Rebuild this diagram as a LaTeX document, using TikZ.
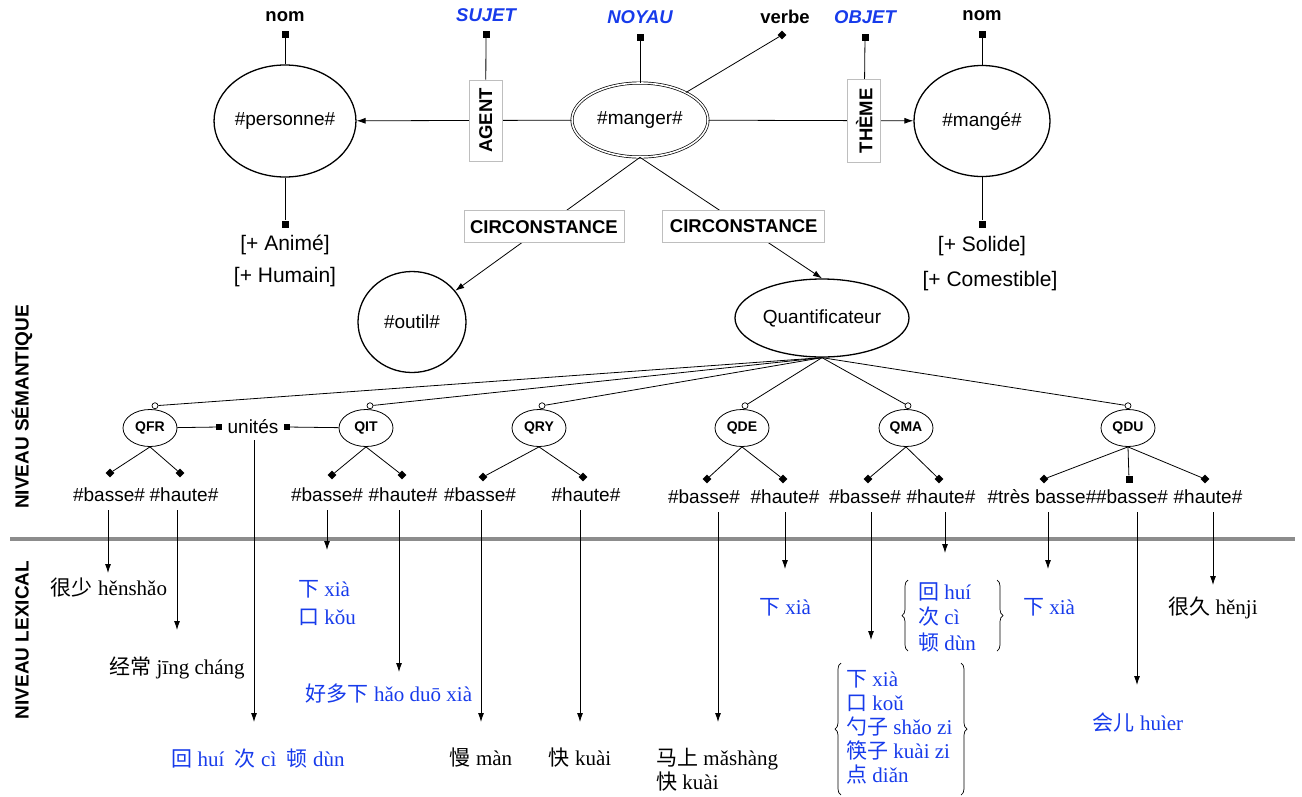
\documentclass[tikz,border=0pt]{standalone}
\usepackage{fontspec}
\setmainfont{Liberation Sans}
\newfontfamily\cjk{Noto Sans CJK SC}
\newfontfamily\pinyin{Liberation Serif}
\usetikzlibrary{arrows.meta, positioning, shapes.geometric, decorations.pathreplacing}
\definecolor{roleblue}{RGB}{23,59,235}
\definecolor{rulegray}{RGB}{140,140,140}
\definecolor{boxgray}{RGB}{190,190,190}

\begin{document}
\begin{tikzpicture}[x=1pt, y=-1pt,
        concept/.style={draw, ellipse, line width=1.3pt, inner sep=0pt, font=\fontsize{19}{22}\selectfont},
        qnode/.style={draw, ellipse, line width=0.8pt, minimum width=54pt, minimum height=37pt, inner sep=0pt, font=\bfseries\fontsize{14}{16}\selectfont},
        relbox/.style={draw=boxgray, fill=white, line width=0.8pt, inner sep=0pt, font=\bfseries\fontsize{18.5}{22}\selectfont},
        tag/.style={font=\bfseries\fontsize{18.5}{22}\selectfont, inner sep=1pt},
        role/.style={font=\bfseries\itshape\fontsize{18.5}{22}\selectfont, text=roleblue, inner sep=1pt},
        val/.style={font=\fontsize{19}{22}\selectfont, inner sep=1pt},
        feat/.style={font=\fontsize{21}{24}\selectfont, inner sep=1pt},
        lex/.style={font=\pinyin\fontsize{21}{24}\selectfont, inner sep=0pt, align=left},
        lexblue/.style={lex, text=roleblue},
        sqmark/.style={fill, rectangle, minimum size=7pt, inner sep=0pt},
        diamark/.style={fill, diamond, minimum size=9pt, inner sep=0pt},
        opendot/.style={draw, fill=white, circle, minimum size=6pt, inner sep=0pt, line width=0.7pt},
        link/.style={line width=0.8pt},
        arr/.style={link, -{Latex[length=9pt, width=6pt]}},
        brk/.style={line width=0.7pt, decorate, decoration={brace, amplitude=6pt}}
    ]
        \useasboundingbox (0,0) rectangle (1302,796);

        % semantic network
        \node[concept, minimum width=139pt, minimum height=112pt] (pers) at (285,121) {\#personne\#};
        \node[concept, double, double distance=1.6pt, line width=0.7pt, minimum width=136pt, minimum height=74pt] (manger) at (640,120) {\#manger\#};
        \node[concept, minimum width=136pt, minimum height=111pt] (mange) at (982,121) {\#mangé\#};
        \node[concept, minimum width=108pt, minimum height=101pt] (outil) at (412,322) {\#outil\#};
        \node[concept, minimum width=174pt, minimum height=78pt] (quantif) at (822,318) {Quantificateur};

        \node[tag] (nomA) at (285,17) {nom};
        \node[role] (sujet) at (486,15) {SUJET};
        \node[role] (noyau) at (640,17) {NOYAU};
        \node[tag] (verbe) at (785,17) {verbe};
        \node[role] (objet) at (865,17) {OBJET};
        \node[tag] (nomB) at (982,16) {nom};

        \foreach \n/\x/\y in {mnomA/285/34, msujet/486/34, mnoyau/640/37, mobjet/865/37, mnomB/982/34, manime/285/224, msolide/982/224}
            \node[sqmark] (\n) at (\x,\y) {};
        \node[diamark] (mverbe) at (782,35) {};

        \node[feat] (anime) at (285,245) {[+ Animé]};
        \node[feat] (humain) at (285,277) {[+ Humain]};
        \node[feat] (solide) at (982,246) {[+ Solide]};
        \node[feat] (comest) at (990,281) {[+ Comestible]};

        \draw[link] (pers) -- (mnomA);
        \draw[link] (pers) -- (manime);
        \draw[link] (mange) -- (mnomB);
        \draw[link] (mange) -- (msolide);
        \draw[link] (manger) -- (mnoyau);
        \draw[link] (manger) -- (mverbe);
        \draw[arr] (manger) -- node[relbox, rotate=90, minimum width=81pt, minimum height=33pt, pos=0.4] (agent) {AGENT} (pers);
        \draw[arr] (manger) -- node[relbox, rotate=90, minimum width=83pt, minimum height=33pt, pos=0.76] (theme) {THÈME} (mange);
        \draw[link] (agent) -- (msujet);
        \draw[link] (theme) -- (mobjet);
        \draw[arr] (manger.south) -- node[relbox, minimum width=160pt, minimum height=32pt, pos=0.52] (circA) {CIRCONSTANCE} (outil);
        \draw[arr] (manger.south) -- node[relbox, minimum width=162pt, minimum height=32pt, pos=0.57] (circB) {CIRCONSTANCE} (quantif.north);

        % quantifier classes
        \foreach \n/\t/\x in {qfr/QFR/150, qit/QIT/366, qry/QRY/539, qde/QDE/742, qma/QMA/906, qdu/QDU/1128}
            \node[qnode] (\n) at (\x,428) {\t};
        \foreach \n/\dx in {qfr/5, qit/4, qry/3, qde/3, qma/2, qdu/0} {
            \node[opendot, anchor=south] (c\n) at ([xshift=\dx]\n.north) {};
            \draw[link] (quantif.south) -- (c\n);
        }

        \node[val] (unites) at (253,427) {unités};
        \node[sqmark, minimum size=6pt] (squL) at (219,427) {};
        \node[sqmark, minimum size=6pt] (squR) at (287,427) {};
        \draw[link] (qfr) -- (squL);
        \draw[link] (qit) -- (squR);

        \foreach \q/\n/\x/\y in {qfr/dfb/110/473, qfr/dfh/180/473, qit/dib/332/475, qit/dih/402/475, qry/drb/483/477, qry/drh/583/477, qde/ddb/707/479, qde/ddh/783/479, qma/dmb/868/479, qma/dmh/939/479, qdu/dutb/1044/479, qdu/duh/1205/479} {
            \node[diamark] (\n) at (\x,\y) {};
            \draw[link] (\q.south) -- (\n);
        }
        \node[sqmark] (sqdub) at (1129,479) {};
        \draw[link] (qdu.south) -- (sqdub);

        \foreach \n/\t/\x/\y in {fb/basse/109/495, fh/haute/184/495, ib/basse/327/495, ih/haute/403/495, rb/basse/480/495, rh/haute/586/495, db/basse/704/497, dh/haute/785/497, mb/basse/865/497, mh/haute/941/497, utb/très basse/1042/497, ub/basse/1132/497, uh/haute/1208/497}
            \node[val] (\n) at (\x,\y) {\#\t\#};

        % levels
        \draw[line width=4pt, rulegray] (10,539) -- (1295,539);
        \node[tag, rotate=90, font=\bfseries\fontsize{19}{22}\selectfont] (semlevel) at (22,407) {NIVEAU SÉMANTIQUE};
        \node[tag, rotate=90, font=\bfseries\fontsize{19}{22}\selectfont] (lexlevel) at (22,640) {NIVEAU LEXICAL};

        % lexical realisations
        \foreach \n/\x/\y in {tfb/108/573, tfh/177/630, tun/254/722, tib/327/550, tih/399/672, trb/481/722, trh/580/722, tdb/718/722, tdh/785/569, tmb/871/640, tmh/945/553, tutb/1048/569, tub/1137/685, tuh/1213/585}
            \coordinate (\n) at (\x,\y);
        \foreach \s/\t in {fb/tfb, fh/tfh, ib/tib, ih/tih, rb/trb, rh/trh, db/tdb, dh/tdh, mb/tmb, mh/tmh, utb/tutb, ub/tub, uh/tuh}
            \draw[arr, shorten <=7pt] (\t |- \s.south) -- (\t);
        \draw[arr, shorten <=5pt] (tun |- unites.south) -- (tun);

        \node[lex] (henshao) at (109,588) {{\cjk 很少} hěnshǎo};
        \node[lex] (jingchang) at (177,668) {{\cjk 经常} jīng cháng};
        \node[lexblue] (huici) at (258,759) {{\cjk 回} huí\enspace {\cjk 次} cì\enspace {\cjk 顿} dùn};
        \node[lexblue] (xiakou) at (327,603) {{\cjk 下} xià\\[4pt]{\cjk 口} kǒu};
        \node[lexblue] (haoduo) at (389,694) {{\cjk 好多下} hǎo duō xià};
        \node[lex] (man) at (481,758) {{\cjk 慢} màn};
        \node[lex] (kuaiA) at (580,758) {{\cjk 快} kuài};
        \node[lex, anchor=west] (mashang) at (656,770) {{\cjk 马上} mǎshàng\\{\cjk 快} kuài};
        \node[lexblue] (xiaA) at (785,607) {{\cjk 下} xià};
        \node[lexblue, anchor=west] (bigset) at (846,727) {{\cjk 下} xià\\{\cjk 口} koǔ\\{\cjk 勺子} shǎo zi\\{\cjk 筷子} kuài zi\\{\cjk 点} diǎn};
        \node[lexblue, anchor=west] (smallset) at (918,617) {{\cjk 回} huí\\[1.5pt]{\cjk 次} cì\\[1.5pt]{\cjk 顿} dùn};
        \node[lexblue] (xiaB) at (1049,607) {{\cjk 下} xià};
        \node[lexblue] (huier) at (1138,723) {{\cjk 会儿} huìer};
        \node[lex] (henjiu) at (1213,608) {{\cjk 很久} hěnji};

        \draw[brk] (841,795) -- (841,663);
        \draw[brk] (961,663) -- (961,795);
        \draw[brk] (908,651) -- (908,580);
        \draw[brk] (997,580) -- (997,651);
    \end{tikzpicture}
\end{document}
